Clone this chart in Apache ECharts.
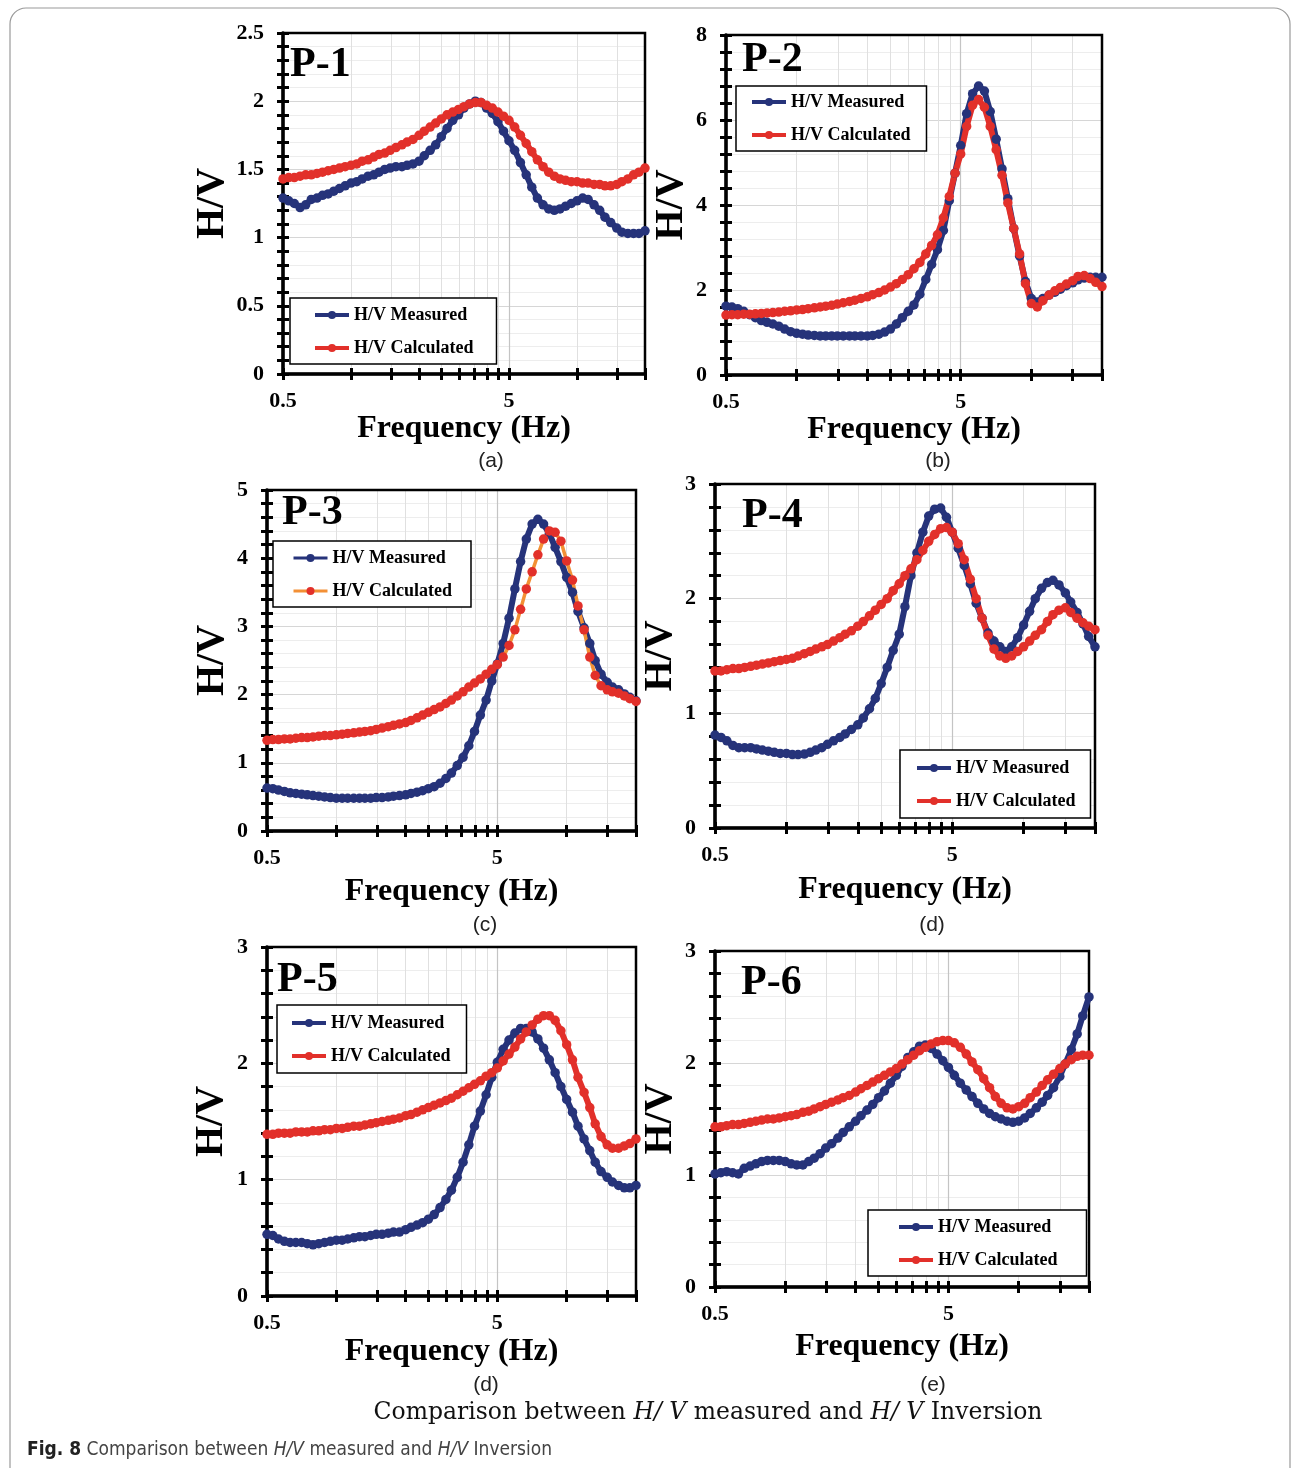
<!DOCTYPE html>
<html><head><meta charset="utf-8">
<script src="https://cdn.jsdelivr.net/npm/echarts@6/dist/echarts.min.js"></script>
<style>html,body{margin:0;padding:0;background:#fff}#c{width:1292px;height:1468px}</style>
</head><body><div id="c"></div>
<script>
// ---------------- DATA ----------------
const freq = [0.5,0.53,0.561,0.595,0.63,0.667,0.707,0.748,0.792,0.839,
  0.889,0.942,1.0,1.06,1.12,1.19,1.26,1.33,1.41,1.49,
  1.58,1.68,1.77,1.88,2.0,2.11,2.24,2.37,2.51,2.66,
  2.82,2.99,3.16,3.35,3.55,3.76,3.98,4.22,4.47,4.73,
  5.0,5.3,5.62,5.96,6.31,6.68,7.08,7.5,7.94,8.41,
  8.91,9.44,10.0,10.6,11.2,11.9,12.6,13.3,14.1,15.0,
  15.8,16.8,17.8,18.8,20.0];

const p1Measured = [1.29,1.27,1.25,1.22,1.24,1.28,1.29,1.31,1.32,1.34,
  1.36,1.38,1.40,1.41,1.43,1.45,1.46,1.48,1.50,1.51,
  1.52,1.52,1.53,1.54,1.56,1.60,1.64,1.68,1.74,1.80,
  1.86,1.90,1.95,1.98,2.00,1.99,1.95,1.91,1.85,1.78,
  1.71,1.64,1.55,1.46,1.37,1.29,1.24,1.21,1.20,1.21,
  1.23,1.25,1.27,1.29,1.28,1.24,1.20,1.15,1.11,1.07,
  1.04,1.03,1.03,1.03,1.05];
const p1Calculated = [1.43,1.44,1.44,1.45,1.46,1.46,1.47,1.48,1.49,1.50,
  1.51,1.52,1.53,1.54,1.56,1.57,1.59,1.61,1.62,1.64,
  1.66,1.68,1.70,1.72,1.75,1.78,1.81,1.84,1.87,1.90,
  1.92,1.94,1.96,1.98,1.99,1.99,1.97,1.95,1.92,1.89,
  1.86,1.81,1.75,1.69,1.63,1.57,1.52,1.48,1.45,1.43,
  1.42,1.41,1.41,1.40,1.40,1.39,1.39,1.38,1.38,1.39,
  1.41,1.43,1.46,1.48,1.51];

const p2Measured = [1.62,1.60,1.56,1.50,1.42,1.35,1.28,1.24,1.20,1.15,
  1.08,1.02,0.98,0.96,0.94,0.93,0.92,0.92,0.92,0.92,
  0.92,0.92,0.92,0.92,0.92,0.93,0.96,1.01,1.08,1.20,
  1.35,1.50,1.65,1.90,2.25,2.60,2.95,3.40,4.10,4.75,
  5.40,6.15,6.62,6.80,6.68,6.20,5.55,4.85,4.15,3.45,
  2.80,2.20,1.80,1.72,1.80,1.88,1.95,2.02,2.10,2.17,
  2.24,2.28,2.30,2.30,2.30];
const p2Calculated = [1.41,1.42,1.42,1.43,1.43,1.44,1.45,1.46,1.47,1.48,
  1.50,1.51,1.53,1.54,1.56,1.58,1.60,1.62,1.64,1.67,
  1.70,1.73,1.76,1.80,1.84,1.89,1.94,2.00,2.07,2.15,
  2.25,2.36,2.50,2.65,2.85,3.05,3.30,3.70,4.20,4.75,
  5.20,5.85,6.35,6.48,6.30,5.85,5.30,4.70,4.05,3.45,
  2.85,2.15,1.68,1.60,1.75,1.88,1.98,2.06,2.14,2.22,
  2.32,2.34,2.27,2.18,2.08];

const p3Measured = [0.63,0.62,0.60,0.58,0.56,0.55,0.54,0.53,0.52,0.51,
  0.50,0.49,0.48,0.48,0.48,0.48,0.48,0.48,0.48,0.49,
  0.49,0.50,0.51,0.52,0.53,0.55,0.57,0.59,0.62,0.65,
  0.70,0.77,0.85,0.96,1.08,1.25,1.46,1.70,1.92,2.20,
  2.45,2.75,3.12,3.55,3.95,4.28,4.50,4.57,4.50,4.36,
  4.16,3.95,3.72,3.50,3.22,2.98,2.75,2.50,2.30,2.18,
  2.11,2.07,2.01,1.96,1.91];
const p3Calculated = [1.33,1.34,1.34,1.35,1.35,1.36,1.37,1.37,1.38,1.39,
  1.40,1.40,1.41,1.42,1.43,1.44,1.45,1.46,1.47,1.49,
  1.51,1.53,1.55,1.57,1.59,1.62,1.66,1.70,1.74,1.78,
  1.82,1.87,1.92,1.98,2.04,2.11,2.17,2.23,2.30,2.37,
  2.44,2.55,2.72,2.95,3.25,3.55,3.80,4.05,4.28,4.40,
  4.38,4.25,3.96,3.68,3.30,2.95,2.55,2.28,2.13,2.07,
  2.04,2.02,1.98,1.94,1.90];

const p4Measured = [0.81,0.79,0.76,0.72,0.70,0.70,0.70,0.69,0.68,0.67,
  0.66,0.65,0.65,0.64,0.64,0.645,0.66,0.68,0.70,0.73,
  0.76,0.79,0.82,0.86,0.90,0.96,1.04,1.13,1.26,1.40,
  1.55,1.69,1.93,2.20,2.40,2.58,2.72,2.78,2.79,2.71,
  2.58,2.44,2.29,2.13,1.96,1.83,1.70,1.63,1.58,1.54,
  1.58,1.66,1.77,1.89,2.00,2.09,2.14,2.16,2.12,2.05,
  1.97,1.88,1.78,1.67,1.58];
const p4Calculated = [1.37,1.37,1.38,1.39,1.39,1.40,1.41,1.42,1.43,1.44,
  1.45,1.46,1.47,1.48,1.50,1.52,1.54,1.56,1.58,1.60,
  1.63,1.66,1.69,1.72,1.76,1.80,1.85,1.90,1.95,2.00,
  2.07,2.13,2.20,2.26,2.34,2.42,2.50,2.56,2.61,2.62,
  2.58,2.48,2.34,2.17,2.00,1.83,1.68,1.56,1.50,1.48,
  1.50,1.54,1.58,1.63,1.68,1.73,1.80,1.86,1.90,1.92,
  1.88,1.83,1.79,1.76,1.73];

const p5Measured = [0.53,0.52,0.49,0.47,0.46,0.46,0.46,0.45,0.44,0.45,
  0.46,0.47,0.48,0.48,0.49,0.50,0.51,0.51,0.52,0.53,
  0.53,0.54,0.55,0.55,0.57,0.59,0.61,0.63,0.66,0.70,
  0.76,0.83,0.91,1.02,1.15,1.30,1.46,1.59,1.73,1.88,
  2.01,2.12,2.20,2.26,2.30,2.30,2.27,2.21,2.13,2.03,
  1.92,1.80,1.69,1.58,1.46,1.35,1.25,1.15,1.07,1.02,
  0.98,0.95,0.93,0.93,0.95];
const p5Calculated = [1.39,1.39,1.40,1.40,1.40,1.41,1.41,1.41,1.42,1.42,
  1.43,1.43,1.44,1.44,1.45,1.46,1.46,1.47,1.48,1.49,
  1.50,1.51,1.52,1.53,1.55,1.56,1.58,1.60,1.62,1.64,
  1.66,1.68,1.70,1.73,1.76,1.79,1.82,1.85,1.89,1.92,
  1.96,2.02,2.08,2.14,2.21,2.27,2.33,2.38,2.41,2.41,
  2.37,2.28,2.16,2.03,1.88,1.75,1.62,1.48,1.37,1.30,
  1.27,1.27,1.29,1.31,1.35];

const p6Measured = [1.01,1.02,1.03,1.02,1.01,1.06,1.08,1.10,1.12,1.13,
  1.13,1.13,1.12,1.10,1.09,1.09,1.12,1.15,1.19,1.24,
  1.28,1.33,1.38,1.43,1.48,1.53,1.58,1.63,1.69,1.75,
  1.82,1.89,1.97,2.05,2.10,2.15,2.16,2.13,2.08,2.02,
  1.96,1.89,1.82,1.76,1.70,1.64,1.59,1.55,1.52,1.50,
  1.48,1.47,1.48,1.51,1.55,1.60,1.65,1.71,1.78,1.88,
  1.99,2.12,2.26,2.42,2.59];
const p6Calculated = [1.43,1.43,1.44,1.45,1.45,1.46,1.47,1.48,1.49,1.50,
  1.50,1.51,1.52,1.53,1.54,1.56,1.57,1.59,1.61,1.63,
  1.65,1.67,1.69,1.71,1.74,1.77,1.80,1.83,1.86,1.89,
  1.92,1.95,1.99,2.03,2.07,2.11,2.14,2.17,2.19,2.20,
  2.20,2.18,2.14,2.08,2.01,1.94,1.86,1.78,1.70,1.64,
  1.60,1.59,1.61,1.64,1.69,1.74,1.80,1.85,1.90,1.95,
  1.99,2.03,2.06,2.07,2.07];

const xTickValues = [0.5,1,1.5,2,2.5,3,3.5,4,4.5,5,10,15,20];
const xLabelValues = [0.5,5];
const panelTitles = ['P-1','P-2','P-3','P-4','P-5','P-6'];
const subCaptions = ['(a)','(b)','(c)','(d)','(d)','(e)'];
const yMax = [2.5,8,5,3,3,3];
const yStep = [0.5,2,1,1,1,1];
const legendLabels = ['H/V Measured','H/V Calculated'];
const measured = [p1Measured,p2Measured,p3Measured,p4Measured,p5Measured,p6Measured];
const calculated = [p1Calculated,p2Calculated,p3Calculated,p4Calculated,p5Calculated,p6Calculated];

// ---------------- LAYOUT ----------------
const SERIF = "'Liberation Serif','Times New Roman',serif";
const BLUE = '#26337a', RED = '#e2302a', ORANGE = '#f39035';
const panels = [
  {grid:{left:283,top:33,width:362,height:341}, title:{left:290,top:44}, legend:{left:290,top:298,padding:[8,23,7,23]}, yGap:40, xGap:34, cap:[491,461]},
  {grid:{left:726,top:35,width:376,height:340}, title:{left:742,top:39}, legend:{left:736,top:86,padding:[7,16,7,14]}, yGap:29, xGap:32, cap:[938,461]},
  {grid:{left:267,top:490,width:369,height:341}, title:{left:282,top:492}, legend:{left:273,top:541,padding:[8,19,7,19]}, yGap:32, xGap:45, cap:[485,925]},
  {grid:{left:715,top:484,width:380,height:344}, title:{left:742,top:495}, legend:{left:900,top:750,padding:[9,15,8,15]}, yGap:22, xGap:46, cap:[932,925]},
  {grid:{left:267,top:947,width:369,height:349}, title:{left:277,top:959}, legend:{left:277,top:1005,padding:[9,16,8,13]}, yGap:35, xGap:40, cap:[486,1385]},
  {grid:{left:715,top:951,width:374,height:336}, title:{left:741,top:962}, legend:{left:868,top:1210,padding:[8,29,7,29]}, yGap:22, xGap:44, cap:[933,1385]}
];

const chart = echarts.init(document.getElementById('c'), null, {width:1292, height:1468});
const option = {animation:false, backgroundColor:'#fff', grid:[], xAxis:[], yAxis:[], series:[], legend:[], title:[], graphic:[]};
const pairs = arr => freq.map((f,i) => [f, arr[i]]);
const labelFont = {fontFamily:SERIF, fontWeight:'bold', fontSize:22, color:'#000'};

panels.forEach((p,g) => {
  option.grid.push(Object.assign({show:true, borderColor:'#000', borderWidth:2.5, backgroundColor:'transparent', z:3, containLabel:false, outerBoundsMode:'none'}, p.grid));
  const xBase = {type:'log', logBase:10, gridIndex:g, min:0.5, max:20, position:'bottom'};
  option.xAxis.push(Object.assign({}, xBase, {
    name:'Frequency (Hz)', nameLocation:'middle', nameGap:p.xGap,
    nameTextStyle:{fontFamily:SERIF, fontWeight:'bold', fontSize:32, color:'#000'},
    axisLine:{show:true, onZero:false, lineStyle:{color:'#000', width:3.5}},
    axisTick:{show:true, customValues:xTickValues, length:6, lineStyle:{color:'#000', width:3}},
    minorTick:{show:false},
    axisLabel:Object.assign({show:true, customValues:xLabelValues, margin:16, formatter: v => String(v)}, labelFont),
    splitLine:{show:true, lineStyle:{color:'#e0e0e0', width:1}}
  }));
  option.xAxis.push(Object.assign({}, xBase, {
    axisLine:{show:false}, axisTick:{show:true, inside:true, customValues:xTickValues, length:6, lineStyle:{color:'#000', width:3}},
    axisLabel:{show:false}, splitLine:{show:false}
  }));
  option.xAxis.push(Object.assign({}, xBase, {
    axisLine:{show:false}, axisTick:{show:false, customValues:[5]},
    axisLabel:{show:false}, splitLine:{show:true, lineStyle:{color:'#c4c4c4', width:1.2}}
  }));
  const yBase = {type:'value', gridIndex:g, min:0, max:yMax[g], interval:yStep[g], position:'left'};
  option.yAxis.push(Object.assign({}, yBase, {
    name:'H/V', nameLocation:'middle', nameGap:p.yGap,
    nameTextStyle:{fontFamily:SERIF, fontWeight:'bold', fontSize:40, color:'#000'},
    axisLine:{show:true, onZero:false, lineStyle:{color:'#000', width:3.5}},
    axisTick:{show:true, length:6, lineStyle:{color:'#000', width:3}},
    minorTick:{show:true, splitNumber:5, length:6, lineStyle:{color:'#000', width:3}},
    axisLabel:Object.assign({show:true, margin:19}, labelFont),
    splitLine:{show:true, lineStyle:{color:'#d6d6d6', width:1}},
    minorSplitLine:{show:true, lineStyle:{color:'#ededed', width:1}}
  }));
  option.yAxis.push(Object.assign({}, yBase, {
    axisLine:{show:false, onZero:false},
    axisTick:{show:true, inside:true, length:6, lineStyle:{color:'#000', width:3}},
    minorTick:{show:true, splitNumber:5, length:6, lineStyle:{color:'#000', width:3}},
    axisLabel:{show:false}, splitLine:{show:false}
  }));
  const calcLine = g === 2 ? ORANGE : RED;
  option.series.push({
    name:'m'+g, type:'line', xAxisIndex:3*g, yAxisIndex:2*g, data:pairs(measured[g]),
    symbol:'circle', symbolSize:9.5, showSymbol:true, showAllSymbol:true, silent:true,
    lineStyle:{width:6, color:BLUE}, itemStyle:{color:BLUE}
  });
  option.series.push({
    name:'c'+g, type:'line', xAxisIndex:3*g, yAxisIndex:2*g, data:pairs(calculated[g]),
    symbol:'circle', symbolSize:9.5, showSymbol:true, showAllSymbol:true, silent:true,
    lineStyle:{width: g === 2 ? 3.5 : 6, color:calcLine}, itemStyle:{color:RED}
  });
  option.legend.push({
    left:p.legend.left, top:p.legend.top, orient:'vertical', padding:p.legend.padding,
    data:['m'+g,'c'+g], formatter: n => n[0] === 'm' ? legendLabels[0] : legendLabels[1],
    itemWidth:34, itemHeight:10, itemGap:15, selectedMode:false,
    lineStyle:{width: g === 2 ? 3 : 4},
    borderColor:'#000', borderWidth:1.5, borderRadius:0, backgroundColor:'#fff',
    textStyle:{fontFamily:SERIF, fontWeight:'bold', fontSize:18, color:'#000'}
  });
  option.title.push({
    text:panelTitles[g], left:p.title.left, top:p.title.top, padding:0,
    textStyle:{fontFamily:SERIF, fontWeight:'bold', fontSize:42, color:'#000'}
  });
  option.graphic.push({
    type:'text', x:p.cap[0], y:p.cap[1],
    style:{text:subCaptions[g], fontFamily:"'Liberation Sans',Arial,sans-serif", fontSize:21, fill:'#222', align:'center', verticalAlign:'middle'}
  });
});

option.graphic.push({
  type:'rect', shape:{x:10, y:8, width:1280, height:1500, r:16}, silent:true,
  style:{fill:'none', stroke:'#9a9a9a', lineWidth:1.2}
});
const CAPSERIF = "'DejaVu Serif',serif";
option.graphic.push({
  type:'text', x:708, y:1413,
  style:{
    text:'Comparison between {i|H/ V} measured and {i|H/ V} Inversion',
    fontFamily:CAPSERIF, fontSize:23.5, fill:'#111', align:'center', verticalAlign:'middle',
    rich:{i:{fontFamily:CAPSERIF, fontSize:23.5, fontStyle:'italic', fill:'#111'}}
  }
});
const NARROW = "'Liberation Sans Narrow','DejaVu Sans Condensed',sans-serif";
option.graphic.push({
  type:'text', x:27, y:1450,
  style:{
    text:'{b|Fig. 8} Comparison between {i|H/V} measured and {i|H/V} Inversion',
    fontFamily:NARROW, fontSize:19, fill:'#444', align:'left', verticalAlign:'middle',
    rich:{
      b:{fontFamily:NARROW, fontSize:19, fontWeight:'bold', fill:'#222'},
      i:{fontFamily:NARROW, fontSize:19, fontStyle:'italic', fill:'#444'}
    }
  }
});

chart.setOption(option);
</script>
</body></html>
